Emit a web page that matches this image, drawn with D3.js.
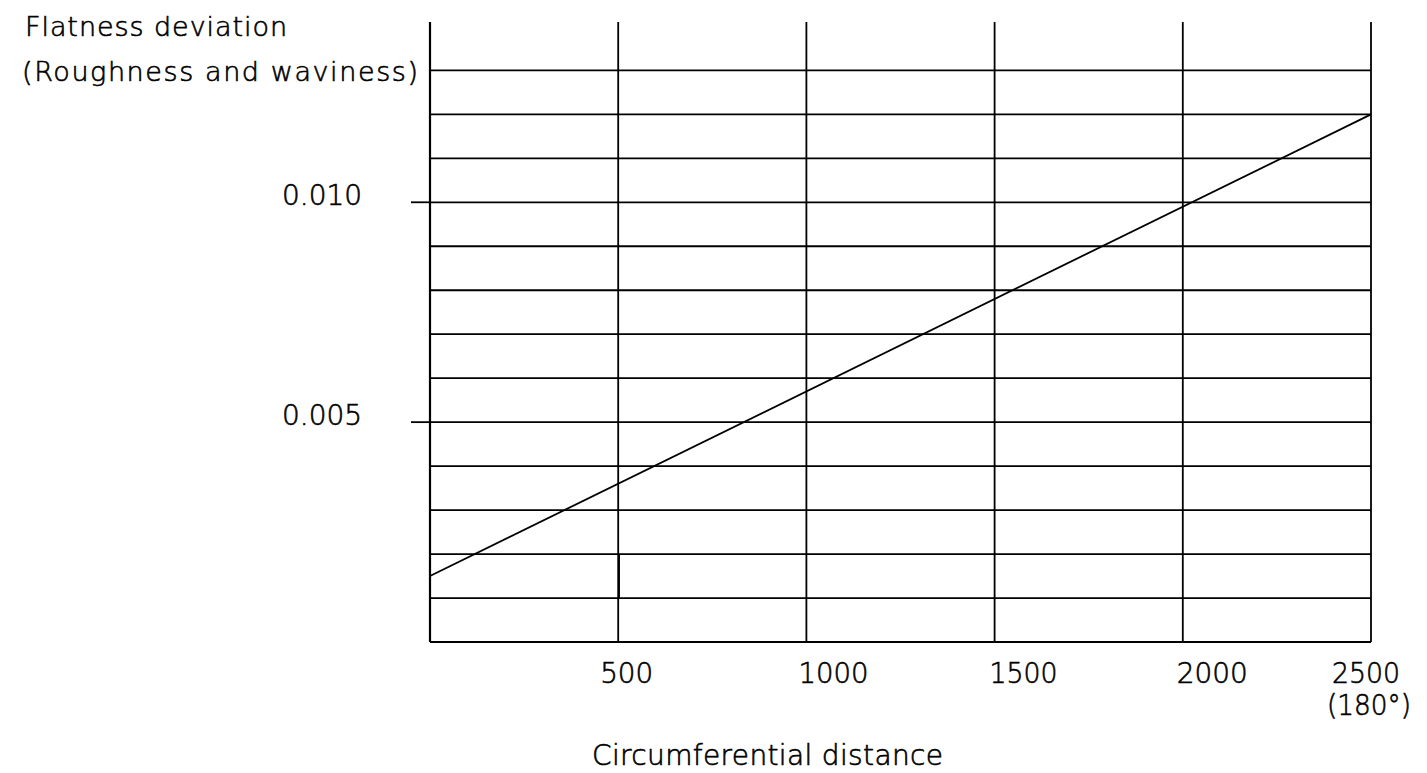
<!DOCTYPE html>
<html><head><meta charset="utf-8">
<script src="https://cdn.jsdelivr.net/npm/d3@7"></script>
<style>
body{margin:0;background:#fff;}
text{font-family:"DejaVu Sans";font-weight:200;fill:#000;stroke:#000;stroke-width:0.6px;}
</style></head>
<body><svg id="c" width="1427" height="773"></svg>
<script>
const xTicks = [500, 1000, 1500, 2000, 2500];
const yGrid = [0.001,0.002,0.003,0.004,0.005,0.006,0.007,0.008,0.009,0.010,0.011,0.012,0.013];
const yTickLabels = [{v:0.005, t:"0.005"},{v:0.010, t:"0.010"}];
const lineData = [{x:0, y:0.0015},{x:2500, y:0.012}];
const xDomain = [0, 2500];
const yDomain = [0, 0.0141];

const svg = d3.select("#c");
const x = d3.scaleLinear().domain(xDomain).range([430, 1371]);
const y = d3.scaleLinear().domain(yDomain).range([642, 22]);
const sw = 1.8;

const g = svg.append("g");
// horizontal grid
g.selectAll("line.h").data(yGrid).join("line")
  .attr("x1", x(0)).attr("x2", x(2500))
  .attr("y1", d=>y(d)).attr("y2", d=>y(d))
  .attr("stroke","#000").attr("stroke-width",sw);
// bottom axis line
g.append("line").attr("x1",x(0)).attr("x2",x(2500)).attr("y1",y(0)).attr("y2",y(0))
  .attr("stroke","#000").attr("stroke-width",sw);
// left axis
g.append("line").attr("x1",x(0)).attr("x2",x(0)).attr("y1",y(0)).attr("y2",y(yDomain[1]))
  .attr("stroke","#000").attr("stroke-width",sw+0.4);
// verticals
g.selectAll("line.v").data(xTicks).join("line")
  .attr("x1", d=>x(d)).attr("x2", d=>x(d))
  .attr("y1", y(0)).attr("y2", y(yDomain[1]))
  .attr("stroke","#000").attr("stroke-width",sw);
// small doubled segment on 500 line
g.append("line").attr("x1",x(500)+1).attr("x2",x(500)+1).attr("y1",y(0.002)).attr("y2",y(0.001))
  .attr("stroke","#000").attr("stroke-width",1.5);
// y tick marks
g.selectAll("line.yt").data(yTickLabels).join("line")
  .attr("x1", x(0)-19).attr("x2", x(0))
  .attr("y1", d=>y(d.v)).attr("y2", d=>y(d.v))
  .attr("stroke","#000").attr("stroke-width",sw);
// y tick labels
g.selectAll("text.yl").data(yTickLabels).join("text")
  .attr("x", 282).attr("y", d=>y(d.v)+3)
  .attr("font-size", 28).attr("textLength", 80).attr("lengthAdjust","spacingAndGlyphs")
  .text(d=>d.t);
// data line
g.append("path").datum(lineData)
  .attr("d", d3.line().x(d=>x(d.x)).y(d=>y(d.y)))
  .attr("fill","none").attr("stroke","#000").attr("stroke-width",sw);
// x labels
const xOff = {500:-18, 1000:-8, 1500:-5, 2000:-6, 2500:-39};
const xLen = {500:53, 1000:70, 1500:68, 2000:71, 2500:68};
g.selectAll("text.xl").data(xTicks).join("text")
  .attr("x", d=>x(d)+xOff[d]).attr("y", 683)
  .attr("font-size", 28).attr("textLength", d=>xLen[d]).attr("lengthAdjust","spacingAndGlyphs")
  .text(d=>d);
g.append("text").attr("x", 1327).attr("y", 715).attr("font-size",28)
  .attr("textLength",84).attr("lengthAdjust","spacingAndGlyphs").text("(180°)");
// axis titles
g.append("text").attr("x",592).attr("y",765).attr("font-size",28)
  .attr("textLength",351).attr("lengthAdjust","spacing").text("Circumferential distance");
g.append("text").attr("x",25).attr("y",36).attr("font-size",27)
  .attr("textLength",262).attr("lengthAdjust","spacing").text("Flatness deviation");
g.append("text").attr("x",22).attr("y",81).attr("font-size",27)
  .attr("textLength",396).attr("lengthAdjust","spacing").text("(Roughness and waviness)");
</script></body></html>
